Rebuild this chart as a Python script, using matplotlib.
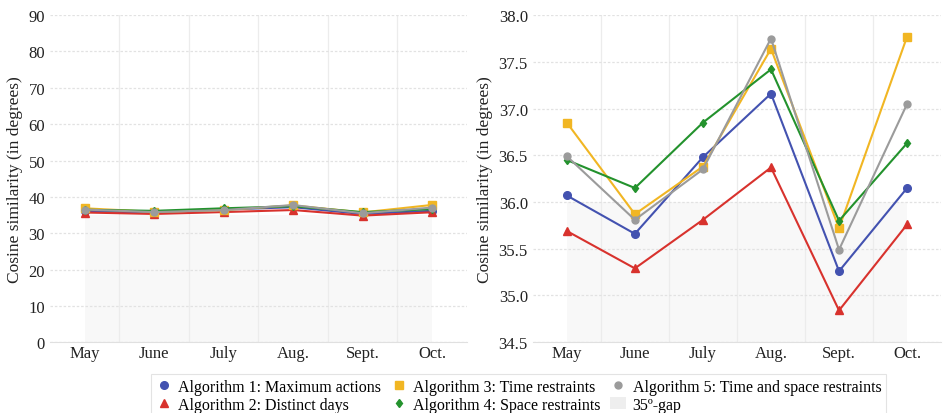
import numpy as np
import matplotlib.pyplot as plt
from matplotlib.lines import Line2D
from matplotlib.patches import Patch

plt.rcParams['font.family'] = ['Liberation Serif', 'DejaVu Serif']

months = ['May', 'June', 'July', 'Aug.', 'Sept.', 'Oct.']
alg1 = [36.07, 35.66, 36.48, 37.16, 35.26, 36.15]
alg2 = [35.69, 35.29, 35.81, 36.37, 34.84, 35.76]
alg3 = [36.85, 35.87, 36.38, 37.64, 35.72, 37.77]
alg4 = [36.45, 36.15, 36.85, 37.42, 35.80, 36.63]
alg5 = [36.49, 35.81, 36.35, 37.75, 35.49, 37.05]
gap_left = 35
gap_right = 36

labels = ['Algorithm 1: Maximum actions', 'Algorithm 2: Distinct days',
          'Algorithm 3: Time restraints', 'Algorithm 4: Space restraints',
          'Algorithm 5: Time and space restraints', '35\u00ba-gap']

series = [
    (alg1, '#4352b0', 'o', 5.5),
    (alg2, '#d8322d', '^', 5.5),
    (alg3, '#f1b623', 's', 5.5),
    (alg4, '#23922d', 'd', 4.5),
    (alg5, '#9b9b9b', 'o', 5),
]

fig = plt.figure(figsize=(9.43, 4.14), dpi=100)
ax1 = fig.add_axes([0.053, 0.171, 0.442, 0.790])
ax2 = fig.add_axes([0.565, 0.171, 0.433, 0.790])

x = np.arange(len(months))


def style(ax, ylim, yticks, fmt):
    ax.set_xlim(-0.5, len(months) - 0.5)
    ax.set_ylim(*ylim)
    ax.set_yticks(yticks)
    ax.set_yticklabels([fmt.format(v) for v in yticks])
    ax.set_xticks(x)
    ax.set_xticklabels(months)
    ax.set_xticks(x[:-1] + 0.5, minor=True)
    ax.grid(True, axis='y', which='major', color='#e2e2e2', linestyle=(0, (2, 1.5)), lw=0.9)
    ax.grid(True, axis='x', which='minor', color='#ececec', linestyle='-', lw=0.9)
    ax.set_axisbelow(True)
    for s in ['top', 'right', 'left']:
        ax.spines[s].set_visible(False)
    ax.spines['bottom'].set_color('#e0e0e0')
    ax.tick_params(axis='both', which='both', length=0, labelsize=12, colors='#222222')
    ax.tick_params(axis='x', pad=2)
    ax.set_ylabel('Cosine similarity (in degrees)', fontsize=12.5, color='#222222')


style(ax1, (0, 90), list(range(0, 91, 10)), '{:d}')
style(ax2, (34.5, 38.0), [34.5, 35.0, 35.5, 36.0, 36.5, 37.0, 37.5, 38.0], '{:.1f}')

ax1.fill_between(x, 0, gap_left, color='#f8f8f8', lw=0, zorder=0.5)
ax2.fill_between(x, 34.5, gap_right, color='#f8f8f8', lw=0, zorder=0.5)

for ax in (ax1, ax2):
    for vals, c, m, ms in series:
        ax.plot(x, vals, color=c, marker=m, markersize=ms, lw=1.5, zorder=3)

handles = [
    Line2D([], [], color=series[0][1], marker='o', ls='none', markersize=5.5),
    Line2D([], [], color=series[1][1], marker='^', ls='none', markersize=5.5),
    Line2D([], [], color=series[2][1], marker='s', ls='none', markersize=5.5),
    Line2D([], [], color=series[3][1], marker='d', ls='none', markersize=4.5),
    Line2D([], [], color=series[4][1], marker='o', ls='none', markersize=5),
    Patch(facecolor='#eeeeee', edgecolor='none'),
]
leg = fig.legend(handles, labels, ncol=3, loc='lower center',
                 bbox_to_anchor=(0.55, -0.03), fontsize=11.5, frameon=True,
                 handlelength=1.0, handletextpad=0.4, columnspacing=0.6,
                 labelspacing=0.1, borderpad=0.3, fancybox=False)
leg.get_frame().set_edgecolor('#dddddd')
leg.get_frame().set_linewidth(0.8)

fig.savefig('out.png', dpi=100)
